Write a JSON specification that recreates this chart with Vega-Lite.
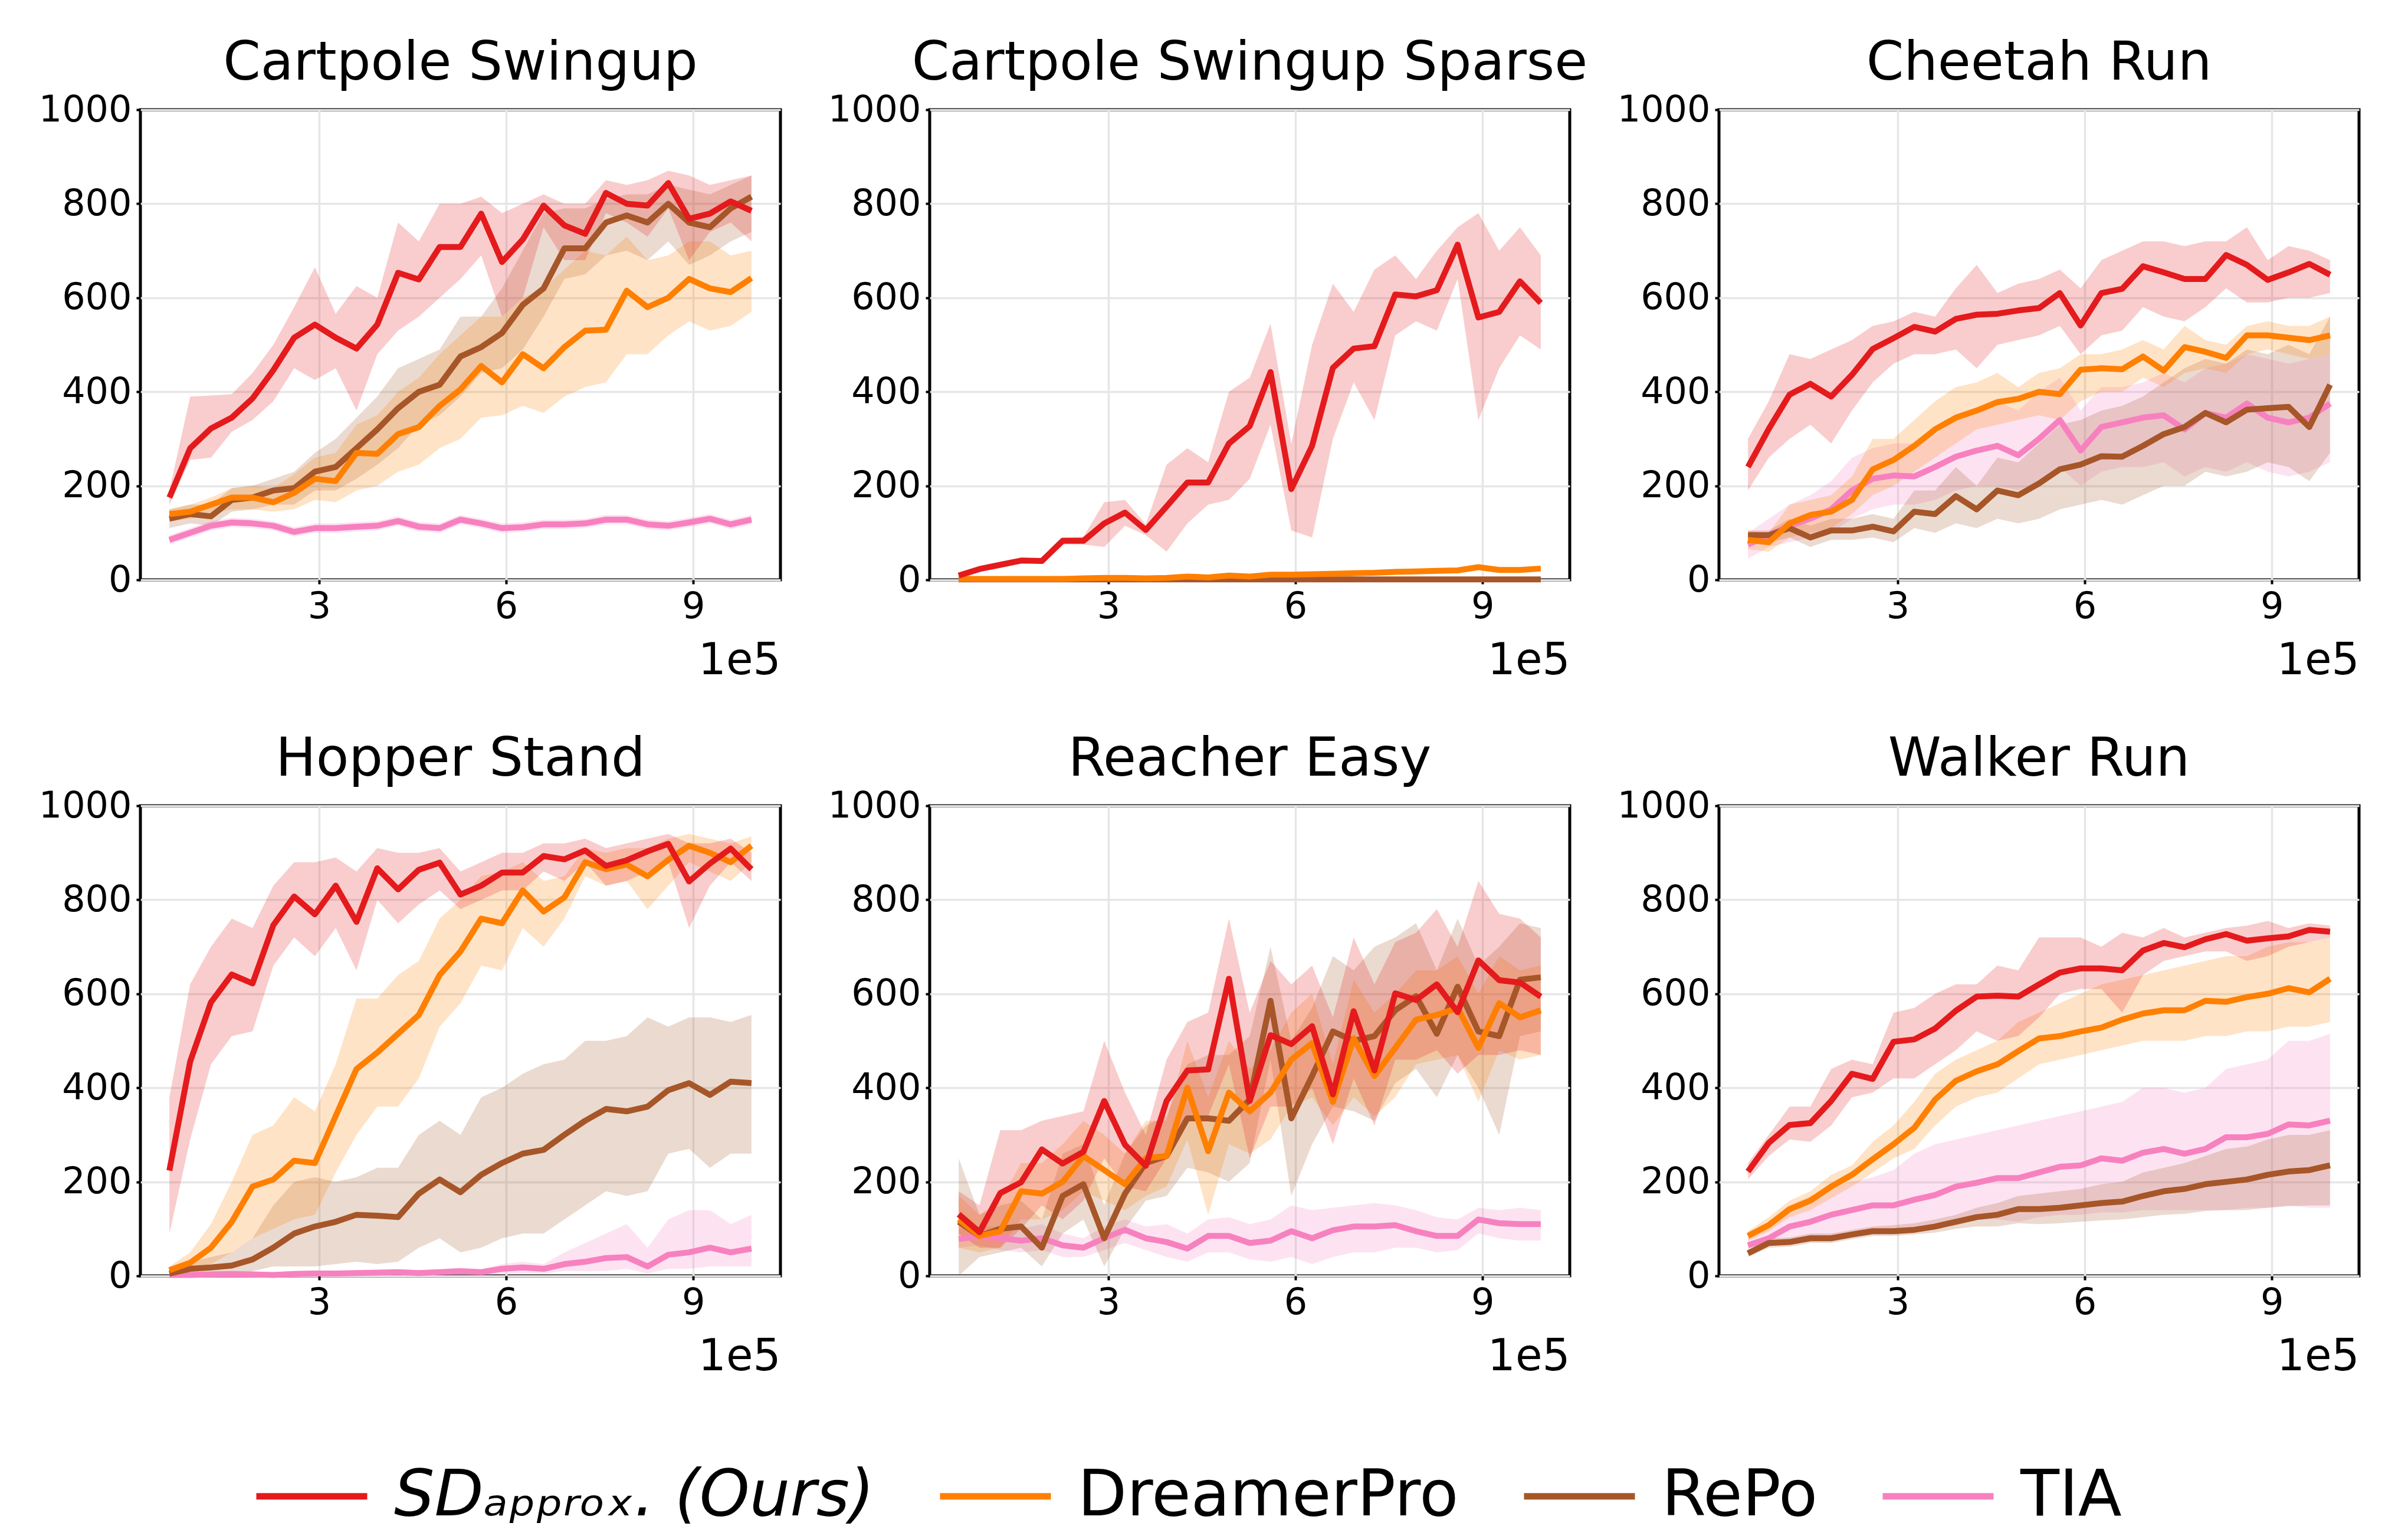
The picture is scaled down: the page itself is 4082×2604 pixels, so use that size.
{
"$schema":"https://vega.github.io/schema/vega-lite/v6.json",
"background":"white",
"padding":{"left":62,"top":59,"right":10,"bottom":5},
"config":{
 "font":"DejaVu Sans",
 "view":{"stroke":"black","strokeWidth":5},
 "axis":{"labelFontSize":62,"labelColor":"black","labelFont":"DejaVu Sans","tickColor":"black","tickSize":7,"tickWidth":4,"labelPadding":8,"gridColor":"#e6e6e6","gridWidth":3.5,"domain":false},
 "title":{"fontSize":91,"fontWeight":"normal","color":"black","font":"DejaVu Sans","offset":1,"baseline":"alphabetic","anchor":"middle"},
 "legend":{"labelFontSize":108,"labelFont":"DejaVu Sans","labelColor":"black","symbolType":"stroke","symbolSize":35344,"symbolStrokeWidth":11,"symbolOpacity":1,"labelOffset":40,"columnPadding":88,"padding":0,"labelLimit":3000}
},
"data":{"values":[
{"t":"CS","m":"TIA","x":60000,"y":85,"lo":75,"hi":95},
{"t":"CS","m":"TIA","x":93333,"y":100,"lo":90,"hi":110},
{"t":"CS","m":"TIA","x":126667,"y":115,"lo":105,"hi":125},
{"t":"CS","m":"TIA","x":160000,"y":122,"lo":112,"hi":132},
{"t":"CS","m":"TIA","x":193333,"y":120,"lo":110,"hi":130},
{"t":"CS","m":"TIA","x":226667,"y":115,"lo":105,"hi":125},
{"t":"CS","m":"TIA","x":260000,"y":102,"lo":92,"hi":112},
{"t":"CS","m":"TIA","x":293333,"y":110,"lo":100,"hi":120},
{"t":"CS","m":"TIA","x":326667,"y":110,"lo":100,"hi":120},
{"t":"CS","m":"TIA","x":360000,"y":113,"lo":103,"hi":123},
{"t":"CS","m":"TIA","x":393333,"y":115,"lo":105,"hi":125},
{"t":"CS","m":"TIA","x":426667,"y":125,"lo":115,"hi":135},
{"t":"CS","m":"TIA","x":460000,"y":113,"lo":103,"hi":123},
{"t":"CS","m":"TIA","x":493333,"y":110,"lo":100,"hi":120},
{"t":"CS","m":"TIA","x":526667,"y":128,"lo":118,"hi":138},
{"t":"CS","m":"TIA","x":560000,"y":120,"lo":110,"hi":130},
{"t":"CS","m":"TIA","x":593333,"y":110,"lo":100,"hi":120},
{"t":"CS","m":"TIA","x":626667,"y":112,"lo":102,"hi":122},
{"t":"CS","m":"TIA","x":660000,"y":118,"lo":108,"hi":128},
{"t":"CS","m":"TIA","x":693333,"y":118,"lo":108,"hi":128},
{"t":"CS","m":"TIA","x":726667,"y":120,"lo":110,"hi":130},
{"t":"CS","m":"TIA","x":760000,"y":128,"lo":118,"hi":138},
{"t":"CS","m":"TIA","x":793333,"y":128,"lo":118,"hi":138},
{"t":"CS","m":"TIA","x":826667,"y":118,"lo":108,"hi":128},
{"t":"CS","m":"TIA","x":860000,"y":115,"lo":105,"hi":125},
{"t":"CS","m":"TIA","x":893333,"y":122,"lo":112,"hi":132},
{"t":"CS","m":"TIA","x":926667,"y":130,"lo":120,"hi":140},
{"t":"CS","m":"TIA","x":960000,"y":118,"lo":108,"hi":128},
{"t":"CS","m":"TIA","x":993333,"y":128,"lo":118,"hi":138},
{"t":"CS","m":"RePo","x":60000,"y":130,"lo":110,"hi":150},
{"t":"CS","m":"RePo","x":93333,"y":140,"lo":120,"hi":160},
{"t":"CS","m":"RePo","x":126667,"y":135,"lo":115,"hi":160},
{"t":"CS","m":"RePo","x":160000,"y":170,"lo":145,"hi":195},
{"t":"CS","m":"RePo","x":193333,"y":175,"lo":150,"hi":200},
{"t":"CS","m":"RePo","x":226667,"y":190,"lo":160,"hi":215},
{"t":"CS","m":"RePo","x":260000,"y":195,"lo":160,"hi":230},
{"t":"CS","m":"RePo","x":293333,"y":230,"lo":190,"hi":270},
{"t":"CS","m":"RePo","x":326667,"y":240,"lo":190,"hi":300},
{"t":"CS","m":"RePo","x":360000,"y":280,"lo":215,"hi":345},
{"t":"CS","m":"RePo","x":393333,"y":320,"lo":245,"hi":390},
{"t":"CS","m":"RePo","x":426667,"y":365,"lo":280,"hi":450},
{"t":"CS","m":"RePo","x":460000,"y":400,"lo":330,"hi":470},
{"t":"CS","m":"RePo","x":493333,"y":415,"lo":350,"hi":490},
{"t":"CS","m":"RePo","x":526667,"y":475,"lo":390,"hi":560},
{"t":"CS","m":"RePo","x":560000,"y":495,"lo":440,"hi":560},
{"t":"CS","m":"RePo","x":593333,"y":525,"lo":450,"hi":620},
{"t":"CS","m":"RePo","x":626667,"y":585,"lo":490,"hi":700},
{"t":"CS","m":"RePo","x":660000,"y":620,"lo":560,"hi":780},
{"t":"CS","m":"RePo","x":693333,"y":705,"lo":640,"hi":790},
{"t":"CS","m":"RePo","x":726667,"y":705,"lo":650,"hi":790},
{"t":"CS","m":"RePo","x":760000,"y":760,"lo":690,"hi":810},
{"t":"CS","m":"RePo","x":793333,"y":775,"lo":700,"hi":820},
{"t":"CS","m":"RePo","x":826667,"y":760,"lo":680,"hi":820},
{"t":"CS","m":"RePo","x":860000,"y":800,"lo":720,"hi":840},
{"t":"CS","m":"RePo","x":893333,"y":760,"lo":670,"hi":830},
{"t":"CS","m":"RePo","x":926667,"y":750,"lo":690,"hi":820},
{"t":"CS","m":"RePo","x":960000,"y":790,"lo":720,"hi":840},
{"t":"CS","m":"RePo","x":993333,"y":815,"lo":740,"hi":860},
{"t":"CS","m":"DreamerPro","x":60000,"y":140,"lo":125,"hi":150},
{"t":"CS","m":"DreamerPro","x":93333,"y":145,"lo":130,"hi":160},
{"t":"CS","m":"DreamerPro","x":126667,"y":160,"lo":140,"hi":175},
{"t":"CS","m":"DreamerPro","x":160000,"y":175,"lo":150,"hi":195},
{"t":"CS","m":"DreamerPro","x":193333,"y":175,"lo":150,"hi":200},
{"t":"CS","m":"DreamerPro","x":226667,"y":165,"lo":145,"hi":195},
{"t":"CS","m":"DreamerPro","x":260000,"y":185,"lo":150,"hi":225},
{"t":"CS","m":"DreamerPro","x":293333,"y":215,"lo":170,"hi":260},
{"t":"CS","m":"DreamerPro","x":326667,"y":210,"lo":165,"hi":270},
{"t":"CS","m":"DreamerPro","x":360000,"y":270,"lo":190,"hi":330},
{"t":"CS","m":"DreamerPro","x":393333,"y":268,"lo":200,"hi":350},
{"t":"CS","m":"DreamerPro","x":426667,"y":310,"lo":230,"hi":400},
{"t":"CS","m":"DreamerPro","x":460000,"y":325,"lo":245,"hi":430},
{"t":"CS","m":"DreamerPro","x":493333,"y":370,"lo":280,"hi":480},
{"t":"CS","m":"DreamerPro","x":526667,"y":405,"lo":300,"hi":520},
{"t":"CS","m":"DreamerPro","x":560000,"y":455,"lo":345,"hi":560},
{"t":"CS","m":"DreamerPro","x":593333,"y":420,"lo":350,"hi":560},
{"t":"CS","m":"DreamerPro","x":626667,"y":480,"lo":370,"hi":600},
{"t":"CS","m":"DreamerPro","x":660000,"y":450,"lo":355,"hi":620},
{"t":"CS","m":"DreamerPro","x":693333,"y":495,"lo":390,"hi":660},
{"t":"CS","m":"DreamerPro","x":726667,"y":530,"lo":410,"hi":700},
{"t":"CS","m":"DreamerPro","x":760000,"y":532,"lo":420,"hi":690},
{"t":"CS","m":"DreamerPro","x":793333,"y":615,"lo":480,"hi":730},
{"t":"CS","m":"DreamerPro","x":826667,"y":580,"lo":480,"hi":680},
{"t":"CS","m":"DreamerPro","x":860000,"y":600,"lo":520,"hi":690},
{"t":"CS","m":"DreamerPro","x":893333,"y":640,"lo":550,"hi":720},
{"t":"CS","m":"DreamerPro","x":926667,"y":620,"lo":530,"hi":720},
{"t":"CS","m":"DreamerPro","x":960000,"y":612,"lo":540,"hi":690},
{"t":"CS","m":"DreamerPro","x":993333,"y":642,"lo":570,"hi":700},
{"t":"CS","m":"SD","x":60000,"y":175,"lo":160,"hi":190},
{"t":"CS","m":"SD","x":93333,"y":280,"lo":255,"hi":390},
{"t":"CS","m":"SD","x":126667,"y":322,"lo":260,"hi":392},
{"t":"CS","m":"SD","x":160000,"y":345,"lo":315,"hi":395},
{"t":"CS","m":"SD","x":193333,"y":386,"lo":340,"hi":440},
{"t":"CS","m":"SD","x":226667,"y":446,"lo":380,"hi":500},
{"t":"CS","m":"SD","x":260000,"y":515,"lo":450,"hi":580},
{"t":"CS","m":"SD","x":293333,"y":543,"lo":425,"hi":665},
{"t":"CS","m":"SD","x":326667,"y":515,"lo":450,"hi":566},
{"t":"CS","m":"SD","x":360000,"y":492,"lo":360,"hi":625},
{"t":"CS","m":"SD","x":393333,"y":543,"lo":480,"hi":600},
{"t":"CS","m":"SD","x":426667,"y":653,"lo":530,"hi":760},
{"t":"CS","m":"SD","x":460000,"y":639,"lo":560,"hi":720},
{"t":"CS","m":"SD","x":493333,"y":708,"lo":600,"hi":800},
{"t":"CS","m":"SD","x":526667,"y":708,"lo":640,"hi":800},
{"t":"CS","m":"SD","x":560000,"y":779,"lo":690,"hi":815},
{"t":"CS","m":"SD","x":593333,"y":676,"lo":560,"hi":780},
{"t":"CS","m":"SD","x":626667,"y":724,"lo":600,"hi":800},
{"t":"CS","m":"SD","x":660000,"y":796,"lo":750,"hi":820},
{"t":"CS","m":"SD","x":693333,"y":754,"lo":680,"hi":800},
{"t":"CS","m":"SD","x":726667,"y":736,"lo":680,"hi":800},
{"t":"CS","m":"SD","x":760000,"y":823,"lo":780,"hi":850},
{"t":"CS","m":"SD","x":793333,"y":800,"lo":760,"hi":840},
{"t":"CS","m":"SD","x":826667,"y":796,"lo":730,"hi":850},
{"t":"CS","m":"SD","x":860000,"y":844,"lo":790,"hi":870},
{"t":"CS","m":"SD","x":893333,"y":768,"lo":680,"hi":860},
{"t":"CS","m":"SD","x":926667,"y":779,"lo":740,"hi":840},
{"t":"CS","m":"SD","x":960000,"y":805,"lo":760,"hi":850},
{"t":"CS","m":"SD","x":993333,"y":785,"lo":720,"hi":860},
{"t":"CSS","m":"RePo","x":60000,"y":1,"lo":0,"hi":2},
{"t":"CSS","m":"RePo","x":93333,"y":1,"lo":0,"hi":2},
{"t":"CSS","m":"RePo","x":126667,"y":1,"lo":0,"hi":2},
{"t":"CSS","m":"RePo","x":160000,"y":1,"lo":0,"hi":2},
{"t":"CSS","m":"RePo","x":193333,"y":1,"lo":0,"hi":2},
{"t":"CSS","m":"RePo","x":226667,"y":1,"lo":0,"hi":2},
{"t":"CSS","m":"RePo","x":260000,"y":1,"lo":0,"hi":2},
{"t":"CSS","m":"RePo","x":293333,"y":1,"lo":0,"hi":2},
{"t":"CSS","m":"RePo","x":326667,"y":1,"lo":0,"hi":2},
{"t":"CSS","m":"RePo","x":360000,"y":1,"lo":0,"hi":2},
{"t":"CSS","m":"RePo","x":393333,"y":1,"lo":0,"hi":2},
{"t":"CSS","m":"RePo","x":426667,"y":1,"lo":0,"hi":2},
{"t":"CSS","m":"RePo","x":460000,"y":1,"lo":0,"hi":2},
{"t":"CSS","m":"RePo","x":493333,"y":1,"lo":0,"hi":2},
{"t":"CSS","m":"RePo","x":526667,"y":1,"lo":0,"hi":2},
{"t":"CSS","m":"RePo","x":560000,"y":1,"lo":0,"hi":2},
{"t":"CSS","m":"RePo","x":593333,"y":1,"lo":0,"hi":2},
{"t":"CSS","m":"RePo","x":626667,"y":1,"lo":0,"hi":2},
{"t":"CSS","m":"RePo","x":660000,"y":1,"lo":0,"hi":2},
{"t":"CSS","m":"RePo","x":693333,"y":1,"lo":0,"hi":2},
{"t":"CSS","m":"RePo","x":726667,"y":1,"lo":0,"hi":2},
{"t":"CSS","m":"RePo","x":760000,"y":1,"lo":0,"hi":2},
{"t":"CSS","m":"RePo","x":793333,"y":1,"lo":0,"hi":2},
{"t":"CSS","m":"RePo","x":826667,"y":1,"lo":0,"hi":2},
{"t":"CSS","m":"RePo","x":860000,"y":1,"lo":0,"hi":2},
{"t":"CSS","m":"RePo","x":893333,"y":1,"lo":0,"hi":2},
{"t":"CSS","m":"RePo","x":926667,"y":1,"lo":0,"hi":2},
{"t":"CSS","m":"RePo","x":960000,"y":1,"lo":0,"hi":2},
{"t":"CSS","m":"RePo","x":993333,"y":1,"lo":0,"hi":2},
{"t":"CSS","m":"DreamerPro","x":60000,"y":2,"lo":0,"hi":4},
{"t":"CSS","m":"DreamerPro","x":93333,"y":2,"lo":0,"hi":4},
{"t":"CSS","m":"DreamerPro","x":126667,"y":2,"lo":0,"hi":4},
{"t":"CSS","m":"DreamerPro","x":160000,"y":2,"lo":0,"hi":4},
{"t":"CSS","m":"DreamerPro","x":193333,"y":2,"lo":0,"hi":4},
{"t":"CSS","m":"DreamerPro","x":226667,"y":2,"lo":0,"hi":4},
{"t":"CSS","m":"DreamerPro","x":260000,"y":3,"lo":1,"hi":5},
{"t":"CSS","m":"DreamerPro","x":293333,"y":4,"lo":1,"hi":7},
{"t":"CSS","m":"DreamerPro","x":326667,"y":4,"lo":1,"hi":7},
{"t":"CSS","m":"DreamerPro","x":360000,"y":3,"lo":1,"hi":6},
{"t":"CSS","m":"DreamerPro","x":393333,"y":4,"lo":1,"hi":7},
{"t":"CSS","m":"DreamerPro","x":426667,"y":7,"lo":3,"hi":11},
{"t":"CSS","m":"DreamerPro","x":460000,"y":5,"lo":2,"hi":9},
{"t":"CSS","m":"DreamerPro","x":493333,"y":9,"lo":5,"hi":13},
{"t":"CSS","m":"DreamerPro","x":526667,"y":7,"lo":4,"hi":11},
{"t":"CSS","m":"DreamerPro","x":560000,"y":11,"lo":7,"hi":15},
{"t":"CSS","m":"DreamerPro","x":593333,"y":11,"lo":7,"hi":15},
{"t":"CSS","m":"DreamerPro","x":626667,"y":12,"lo":8,"hi":16},
{"t":"CSS","m":"DreamerPro","x":660000,"y":13,"lo":9,"hi":17},
{"t":"CSS","m":"DreamerPro","x":693333,"y":14,"lo":10,"hi":18},
{"t":"CSS","m":"DreamerPro","x":726667,"y":15,"lo":11,"hi":19},
{"t":"CSS","m":"DreamerPro","x":760000,"y":17,"lo":13,"hi":21},
{"t":"CSS","m":"DreamerPro","x":793333,"y":18,"lo":14,"hi":22},
{"t":"CSS","m":"DreamerPro","x":826667,"y":19,"lo":15,"hi":23},
{"t":"CSS","m":"DreamerPro","x":860000,"y":20,"lo":16,"hi":24},
{"t":"CSS","m":"DreamerPro","x":893333,"y":27,"lo":22,"hi":32},
{"t":"CSS","m":"DreamerPro","x":926667,"y":21,"lo":17,"hi":25},
{"t":"CSS","m":"DreamerPro","x":960000,"y":21,"lo":17,"hi":25},
{"t":"CSS","m":"DreamerPro","x":993333,"y":24,"lo":20,"hi":28},
{"t":"CSS","m":"SD","x":60000,"y":9,"lo":5,"hi":15},
{"t":"CSS","m":"SD","x":93333,"y":23,"lo":18,"hi":28},
{"t":"CSS","m":"SD","x":126667,"y":32,"lo":27,"hi":38},
{"t":"CSS","m":"SD","x":160000,"y":41,"lo":36,"hi":47},
{"t":"CSS","m":"SD","x":193333,"y":40,"lo":35,"hi":45},
{"t":"CSS","m":"SD","x":226667,"y":83,"lo":75,"hi":90},
{"t":"CSS","m":"SD","x":260000,"y":83,"lo":75,"hi":92},
{"t":"CSS","m":"SD","x":293333,"y":120,"lo":70,"hi":165},
{"t":"CSS","m":"SD","x":326667,"y":143,"lo":115,"hi":170},
{"t":"CSS","m":"SD","x":360000,"y":106,"lo":95,"hi":118},
{"t":"CSS","m":"SD","x":393333,"y":156,"lo":60,"hi":245},
{"t":"CSS","m":"SD","x":426667,"y":207,"lo":120,"hi":280},
{"t":"CSS","m":"SD","x":460000,"y":207,"lo":160,"hi":250},
{"t":"CSS","m":"SD","x":493333,"y":290,"lo":170,"hi":400},
{"t":"CSS","m":"SD","x":526667,"y":327,"lo":215,"hi":430},
{"t":"CSS","m":"SD","x":560000,"y":442,"lo":330,"hi":545},
{"t":"CSS","m":"SD","x":593333,"y":193,"lo":105,"hi":290},
{"t":"CSS","m":"SD","x":626667,"y":285,"lo":90,"hi":500},
{"t":"CSS","m":"SD","x":660000,"y":451,"lo":300,"hi":630},
{"t":"CSS","m":"SD","x":693333,"y":492,"lo":420,"hi":570},
{"t":"CSS","m":"SD","x":726667,"y":497,"lo":340,"hi":660},
{"t":"CSS","m":"SD","x":760000,"y":607,"lo":520,"hi":690},
{"t":"CSS","m":"SD","x":793333,"y":603,"lo":550,"hi":640},
{"t":"CSS","m":"SD","x":826667,"y":616,"lo":530,"hi":700},
{"t":"CSS","m":"SD","x":860000,"y":713,"lo":640,"hi":750},
{"t":"CSS","m":"SD","x":893333,"y":558,"lo":340,"hi":780},
{"t":"CSS","m":"SD","x":926667,"y":570,"lo":450,"hi":700},
{"t":"CSS","m":"SD","x":960000,"y":635,"lo":520,"hi":750},
{"t":"CSS","m":"SD","x":993333,"y":589,"lo":490,"hi":690},
{"t":"CR","m":"TIA","x":60000,"y":75,"lo":45,"hi":100},
{"t":"CR","m":"TIA","x":93333,"y":95,"lo":70,"hi":130},
{"t":"CR","m":"TIA","x":126667,"y":115,"lo":80,"hi":160},
{"t":"CR","m":"TIA","x":160000,"y":130,"lo":90,"hi":180},
{"t":"CR","m":"TIA","x":193333,"y":150,"lo":100,"hi":210},
{"t":"CR","m":"TIA","x":226667,"y":190,"lo":130,"hi":260},
{"t":"CR","m":"TIA","x":260000,"y":215,"lo":150,"hi":280},
{"t":"CR","m":"TIA","x":293333,"y":222,"lo":160,"hi":290},
{"t":"CR","m":"TIA","x":326667,"y":220,"lo":160,"hi":290},
{"t":"CR","m":"TIA","x":360000,"y":240,"lo":170,"hi":310},
{"t":"CR","m":"TIA","x":393333,"y":262,"lo":190,"hi":340},
{"t":"CR","m":"TIA","x":426667,"y":275,"lo":200,"hi":360},
{"t":"CR","m":"TIA","x":460000,"y":285,"lo":200,"hi":380},
{"t":"CR","m":"TIA","x":493333,"y":265,"lo":190,"hi":360},
{"t":"CR","m":"TIA","x":526667,"y":300,"lo":210,"hi":400},
{"t":"CR","m":"TIA","x":560000,"y":340,"lo":240,"hi":430},
{"t":"CR","m":"TIA","x":593333,"y":275,"lo":200,"hi":360},
{"t":"CR","m":"TIA","x":626667,"y":325,"lo":230,"hi":410},
{"t":"CR","m":"TIA","x":660000,"y":335,"lo":240,"hi":410},
{"t":"CR","m":"TIA","x":693333,"y":345,"lo":240,"hi":420},
{"t":"CR","m":"TIA","x":726667,"y":350,"lo":250,"hi":440},
{"t":"CR","m":"TIA","x":760000,"y":320,"lo":220,"hi":420},
{"t":"CR","m":"TIA","x":793333,"y":355,"lo":240,"hi":450},
{"t":"CR","m":"TIA","x":826667,"y":345,"lo":230,"hi":460},
{"t":"CR","m":"TIA","x":860000,"y":375,"lo":250,"hi":480},
{"t":"CR","m":"TIA","x":893333,"y":345,"lo":230,"hi":470},
{"t":"CR","m":"TIA","x":926667,"y":335,"lo":220,"hi":460},
{"t":"CR","m":"TIA","x":960000,"y":345,"lo":230,"hi":470},
{"t":"CR","m":"TIA","x":993333,"y":375,"lo":250,"hi":480},
{"t":"CR","m":"RePo","x":60000,"y":95,"lo":85,"hi":105},
{"t":"CR","m":"RePo","x":93333,"y":95,"lo":80,"hi":105},
{"t":"CR","m":"RePo","x":126667,"y":110,"lo":90,"hi":130},
{"t":"CR","m":"RePo","x":160000,"y":90,"lo":70,"hi":115},
{"t":"CR","m":"RePo","x":193333,"y":105,"lo":85,"hi":130},
{"t":"CR","m":"RePo","x":226667,"y":105,"lo":85,"hi":130},
{"t":"CR","m":"RePo","x":260000,"y":113,"lo":90,"hi":140},
{"t":"CR","m":"RePo","x":293333,"y":103,"lo":80,"hi":130},
{"t":"CR","m":"RePo","x":326667,"y":145,"lo":110,"hi":190},
{"t":"CR","m":"RePo","x":360000,"y":140,"lo":100,"hi":190},
{"t":"CR","m":"RePo","x":393333,"y":178,"lo":120,"hi":240},
{"t":"CR","m":"RePo","x":426667,"y":150,"lo":110,"hi":200},
{"t":"CR","m":"RePo","x":460000,"y":190,"lo":130,"hi":260},
{"t":"CR","m":"RePo","x":493333,"y":180,"lo":120,"hi":250},
{"t":"CR","m":"RePo","x":526667,"y":205,"lo":130,"hi":290},
{"t":"CR","m":"RePo","x":560000,"y":235,"lo":150,"hi":330},
{"t":"CR","m":"RePo","x":593333,"y":245,"lo":160,"hi":340},
{"t":"CR","m":"RePo","x":626667,"y":263,"lo":170,"hi":360},
{"t":"CR","m":"RePo","x":660000,"y":262,"lo":160,"hi":370},
{"t":"CR","m":"RePo","x":693333,"y":285,"lo":180,"hi":390},
{"t":"CR","m":"RePo","x":726667,"y":310,"lo":200,"hi":420},
{"t":"CR","m":"RePo","x":760000,"y":325,"lo":200,"hi":450},
{"t":"CR","m":"RePo","x":793333,"y":355,"lo":230,"hi":470},
{"t":"CR","m":"RePo","x":826667,"y":335,"lo":220,"hi":460},
{"t":"CR","m":"RePo","x":860000,"y":362,"lo":230,"hi":490},
{"t":"CR","m":"RePo","x":893333,"y":365,"lo":250,"hi":480},
{"t":"CR","m":"RePo","x":926667,"y":368,"lo":240,"hi":500},
{"t":"CR","m":"RePo","x":960000,"y":325,"lo":210,"hi":480},
{"t":"CR","m":"RePo","x":993333,"y":415,"lo":270,"hi":560},
{"t":"CR","m":"DreamerPro","x":60000,"y":85,"lo":65,"hi":105},
{"t":"CR","m":"DreamerPro","x":93333,"y":80,"lo":60,"hi":100},
{"t":"CR","m":"DreamerPro","x":126667,"y":120,"lo":90,"hi":160},
{"t":"CR","m":"DreamerPro","x":160000,"y":138,"lo":100,"hi":170},
{"t":"CR","m":"DreamerPro","x":193333,"y":145,"lo":110,"hi":180},
{"t":"CR","m":"DreamerPro","x":226667,"y":170,"lo":140,"hi":220},
{"t":"CR","m":"DreamerPro","x":260000,"y":235,"lo":180,"hi":300},
{"t":"CR","m":"DreamerPro","x":293333,"y":255,"lo":200,"hi":300},
{"t":"CR","m":"DreamerPro","x":326667,"y":285,"lo":230,"hi":340},
{"t":"CR","m":"DreamerPro","x":360000,"y":320,"lo":260,"hi":380},
{"t":"CR","m":"DreamerPro","x":393333,"y":345,"lo":290,"hi":410},
{"t":"CR","m":"DreamerPro","x":426667,"y":360,"lo":320,"hi":420},
{"t":"CR","m":"DreamerPro","x":460000,"y":378,"lo":330,"hi":440},
{"t":"CR","m":"DreamerPro","x":493333,"y":385,"lo":340,"hi":410},
{"t":"CR","m":"DreamerPro","x":526667,"y":400,"lo":350,"hi":440},
{"t":"CR","m":"DreamerPro","x":560000,"y":395,"lo":340,"hi":450},
{"t":"CR","m":"DreamerPro","x":593333,"y":447,"lo":380,"hi":480},
{"t":"CR","m":"DreamerPro","x":626667,"y":450,"lo":400,"hi":480},
{"t":"CR","m":"DreamerPro","x":660000,"y":448,"lo":400,"hi":490},
{"t":"CR","m":"DreamerPro","x":693333,"y":475,"lo":430,"hi":510},
{"t":"CR","m":"DreamerPro","x":726667,"y":445,"lo":410,"hi":490},
{"t":"CR","m":"DreamerPro","x":760000,"y":495,"lo":440,"hi":540},
{"t":"CR","m":"DreamerPro","x":793333,"y":485,"lo":450,"hi":510},
{"t":"CR","m":"DreamerPro","x":826667,"y":472,"lo":440,"hi":500},
{"t":"CR","m":"DreamerPro","x":860000,"y":520,"lo":480,"hi":540},
{"t":"CR","m":"DreamerPro","x":893333,"y":520,"lo":490,"hi":550},
{"t":"CR","m":"DreamerPro","x":926667,"y":515,"lo":480,"hi":540},
{"t":"CR","m":"DreamerPro","x":960000,"y":510,"lo":470,"hi":540},
{"t":"CR","m":"DreamerPro","x":993333,"y":520,"lo":480,"hi":560},
{"t":"CR","m":"SD","x":60000,"y":240,"lo":190,"hi":300},
{"t":"CR","m":"SD","x":93333,"y":321,"lo":260,"hi":380},
{"t":"CR","m":"SD","x":126667,"y":394,"lo":300,"hi":480},
{"t":"CR","m":"SD","x":160000,"y":417,"lo":330,"hi":470},
{"t":"CR","m":"SD","x":193333,"y":390,"lo":290,"hi":490},
{"t":"CR","m":"SD","x":226667,"y":436,"lo":360,"hi":510},
{"t":"CR","m":"SD","x":260000,"y":491,"lo":420,"hi":540},
{"t":"CR","m":"SD","x":293333,"y":514,"lo":460,"hi":550},
{"t":"CR","m":"SD","x":326667,"y":538,"lo":480,"hi":570},
{"t":"CR","m":"SD","x":360000,"y":528,"lo":480,"hi":560},
{"t":"CR","m":"SD","x":393333,"y":555,"lo":490,"hi":620},
{"t":"CR","m":"SD","x":426667,"y":564,"lo":450,"hi":670},
{"t":"CR","m":"SD","x":460000,"y":566,"lo":500,"hi":610},
{"t":"CR","m":"SD","x":493333,"y":573,"lo":510,"hi":630},
{"t":"CR","m":"SD","x":526667,"y":578,"lo":520,"hi":640},
{"t":"CR","m":"SD","x":560000,"y":610,"lo":540,"hi":660},
{"t":"CR","m":"SD","x":593333,"y":541,"lo":480,"hi":620},
{"t":"CR","m":"SD","x":626667,"y":610,"lo":520,"hi":680},
{"t":"CR","m":"SD","x":660000,"y":619,"lo":530,"hi":700},
{"t":"CR","m":"SD","x":693333,"y":667,"lo":580,"hi":720},
{"t":"CR","m":"SD","x":726667,"y":654,"lo":560,"hi":720},
{"t":"CR","m":"SD","x":760000,"y":640,"lo":550,"hi":710},
{"t":"CR","m":"SD","x":793333,"y":640,"lo":580,"hi":720},
{"t":"CR","m":"SD","x":826667,"y":691,"lo":620,"hi":720},
{"t":"CR","m":"SD","x":860000,"y":670,"lo":590,"hi":750},
{"t":"CR","m":"SD","x":893333,"y":638,"lo":590,"hi":680},
{"t":"CR","m":"SD","x":926667,"y":654,"lo":600,"hi":710},
{"t":"CR","m":"SD","x":960000,"y":672,"lo":600,"hi":700},
{"t":"CR","m":"SD","x":993333,"y":649,"lo":610,"hi":680},
{"t":"HS","m":"TIA","x":60000,"y":2,"lo":0,"hi":8},
{"t":"HS","m":"TIA","x":93333,"y":2,"lo":0,"hi":8},
{"t":"HS","m":"TIA","x":126667,"y":3,"lo":0,"hi":9},
{"t":"HS","m":"TIA","x":160000,"y":4,"lo":0,"hi":10},
{"t":"HS","m":"TIA","x":193333,"y":3,"lo":0,"hi":9},
{"t":"HS","m":"TIA","x":226667,"y":2,"lo":0,"hi":8},
{"t":"HS","m":"TIA","x":260000,"y":4,"lo":0,"hi":10},
{"t":"HS","m":"TIA","x":293333,"y":5,"lo":0,"hi":11},
{"t":"HS","m":"TIA","x":326667,"y":5,"lo":0,"hi":11},
{"t":"HS","m":"TIA","x":360000,"y":6,"lo":0,"hi":12},
{"t":"HS","m":"TIA","x":393333,"y":7,"lo":0,"hi":13},
{"t":"HS","m":"TIA","x":426667,"y":8,"lo":0,"hi":14},
{"t":"HS","m":"TIA","x":460000,"y":6,"lo":0,"hi":12},
{"t":"HS","m":"TIA","x":493333,"y":8,"lo":0,"hi":14},
{"t":"HS","m":"TIA","x":526667,"y":10,"lo":0,"hi":16},
{"t":"HS","m":"TIA","x":560000,"y":8,"lo":0,"hi":14},
{"t":"HS","m":"TIA","x":593333,"y":15,"lo":5,"hi":25},
{"t":"HS","m":"TIA","x":626667,"y":18,"lo":5,"hi":30},
{"t":"HS","m":"TIA","x":660000,"y":15,"lo":5,"hi":25},
{"t":"HS","m":"TIA","x":693333,"y":25,"lo":10,"hi":50},
{"t":"HS","m":"TIA","x":726667,"y":30,"lo":10,"hi":70},
{"t":"HS","m":"TIA","x":760000,"y":38,"lo":10,"hi":90},
{"t":"HS","m":"TIA","x":793333,"y":40,"lo":15,"hi":110},
{"t":"HS","m":"TIA","x":826667,"y":20,"lo":5,"hi":60},
{"t":"HS","m":"TIA","x":860000,"y":45,"lo":15,"hi":120},
{"t":"HS","m":"TIA","x":893333,"y":50,"lo":15,"hi":140},
{"t":"HS","m":"TIA","x":926667,"y":60,"lo":20,"hi":140},
{"t":"HS","m":"TIA","x":960000,"y":50,"lo":20,"hi":110},
{"t":"HS","m":"TIA","x":993333,"y":58,"lo":20,"hi":130},
{"t":"HS","m":"RePo","x":60000,"y":5,"lo":0,"hi":10},
{"t":"HS","m":"RePo","x":93333,"y":15,"lo":3,"hi":30},
{"t":"HS","m":"RePo","x":126667,"y":18,"lo":5,"hi":40},
{"t":"HS","m":"RePo","x":160000,"y":22,"lo":5,"hi":50},
{"t":"HS","m":"RePo","x":193333,"y":35,"lo":10,"hi":80},
{"t":"HS","m":"RePo","x":226667,"y":60,"lo":20,"hi":150},
{"t":"HS","m":"RePo","x":260000,"y":90,"lo":20,"hi":200},
{"t":"HS","m":"RePo","x":293333,"y":105,"lo":20,"hi":210},
{"t":"HS","m":"RePo","x":326667,"y":115,"lo":25,"hi":200},
{"t":"HS","m":"RePo","x":360000,"y":130,"lo":30,"hi":210},
{"t":"HS","m":"RePo","x":393333,"y":128,"lo":25,"hi":230},
{"t":"HS","m":"RePo","x":426667,"y":125,"lo":30,"hi":230},
{"t":"HS","m":"RePo","x":460000,"y":175,"lo":60,"hi":300},
{"t":"HS","m":"RePo","x":493333,"y":205,"lo":80,"hi":330},
{"t":"HS","m":"RePo","x":526667,"y":178,"lo":50,"hi":300},
{"t":"HS","m":"RePo","x":560000,"y":215,"lo":60,"hi":380},
{"t":"HS","m":"RePo","x":593333,"y":240,"lo":80,"hi":400},
{"t":"HS","m":"RePo","x":626667,"y":260,"lo":90,"hi":430},
{"t":"HS","m":"RePo","x":660000,"y":268,"lo":90,"hi":450},
{"t":"HS","m":"RePo","x":693333,"y":300,"lo":120,"hi":460},
{"t":"HS","m":"RePo","x":726667,"y":330,"lo":150,"hi":500},
{"t":"HS","m":"RePo","x":760000,"y":355,"lo":180,"hi":500},
{"t":"HS","m":"RePo","x":793333,"y":350,"lo":170,"hi":510},
{"t":"HS","m":"RePo","x":826667,"y":360,"lo":180,"hi":550},
{"t":"HS","m":"RePo","x":860000,"y":395,"lo":260,"hi":530},
{"t":"HS","m":"RePo","x":893333,"y":410,"lo":270,"hi":550},
{"t":"HS","m":"RePo","x":926667,"y":385,"lo":230,"hi":550},
{"t":"HS","m":"RePo","x":960000,"y":413,"lo":260,"hi":540},
{"t":"HS","m":"RePo","x":993333,"y":410,"lo":260,"hi":555},
{"t":"HS","m":"DreamerPro","x":60000,"y":12,"lo":5,"hi":20},
{"t":"HS","m":"DreamerPro","x":93333,"y":28,"lo":10,"hi":50},
{"t":"HS","m":"DreamerPro","x":126667,"y":60,"lo":25,"hi":110},
{"t":"HS","m":"DreamerPro","x":160000,"y":115,"lo":50,"hi":200},
{"t":"HS","m":"DreamerPro","x":193333,"y":190,"lo":80,"hi":300},
{"t":"HS","m":"DreamerPro","x":226667,"y":205,"lo":100,"hi":320},
{"t":"HS","m":"DreamerPro","x":260000,"y":245,"lo":120,"hi":380},
{"t":"HS","m":"DreamerPro","x":293333,"y":240,"lo":130,"hi":350},
{"t":"HS","m":"DreamerPro","x":326667,"y":340,"lo":220,"hi":450},
{"t":"HS","m":"DreamerPro","x":360000,"y":440,"lo":300,"hi":590},
{"t":"HS","m":"DreamerPro","x":393333,"y":475,"lo":360,"hi":590},
{"t":"HS","m":"DreamerPro","x":426667,"y":515,"lo":360,"hi":640},
{"t":"HS","m":"DreamerPro","x":460000,"y":555,"lo":420,"hi":670},
{"t":"HS","m":"DreamerPro","x":493333,"y":640,"lo":530,"hi":760},
{"t":"HS","m":"DreamerPro","x":526667,"y":690,"lo":580,"hi":800},
{"t":"HS","m":"DreamerPro","x":560000,"y":760,"lo":660,"hi":850},
{"t":"HS","m":"DreamerPro","x":593333,"y":750,"lo":650,"hi":860},
{"t":"HS","m":"DreamerPro","x":626667,"y":820,"lo":740,"hi":880},
{"t":"HS","m":"DreamerPro","x":660000,"y":775,"lo":700,"hi":840},
{"t":"HS","m":"DreamerPro","x":693333,"y":805,"lo":760,"hi":850},
{"t":"HS","m":"DreamerPro","x":726667,"y":880,"lo":850,"hi":910},
{"t":"HS","m":"DreamerPro","x":760000,"y":865,"lo":830,"hi":900},
{"t":"HS","m":"DreamerPro","x":793333,"y":875,"lo":840,"hi":910},
{"t":"HS","m":"DreamerPro","x":826667,"y":850,"lo":780,"hi":910},
{"t":"HS","m":"DreamerPro","x":860000,"y":885,"lo":830,"hi":930},
{"t":"HS","m":"DreamerPro","x":893333,"y":915,"lo":880,"hi":940},
{"t":"HS","m":"DreamerPro","x":926667,"y":900,"lo":860,"hi":930},
{"t":"HS","m":"DreamerPro","x":960000,"y":880,"lo":840,"hi":920},
{"t":"HS","m":"DreamerPro","x":993333,"y":915,"lo":880,"hi":935},
{"t":"HS","m":"SD","x":60000,"y":224,"lo":90,"hi":380},
{"t":"HS","m":"SD","x":93333,"y":456,"lo":290,"hi":620},
{"t":"HS","m":"SD","x":126667,"y":582,"lo":450,"hi":700},
{"t":"HS","m":"SD","x":160000,"y":641,"lo":510,"hi":760},
{"t":"HS","m":"SD","x":193333,"y":622,"lo":520,"hi":740},
{"t":"HS","m":"SD","x":226667,"y":746,"lo":660,"hi":830},
{"t":"HS","m":"SD","x":260000,"y":807,"lo":720,"hi":880},
{"t":"HS","m":"SD","x":293333,"y":769,"lo":680,"hi":880},
{"t":"HS","m":"SD","x":326667,"y":830,"lo":740,"hi":890},
{"t":"HS","m":"SD","x":360000,"y":753,"lo":650,"hi":860},
{"t":"HS","m":"SD","x":393333,"y":867,"lo":800,"hi":910},
{"t":"HS","m":"SD","x":426667,"y":822,"lo":750,"hi":900},
{"t":"HS","m":"SD","x":460000,"y":864,"lo":790,"hi":900},
{"t":"HS","m":"SD","x":493333,"y":879,"lo":820,"hi":910},
{"t":"HS","m":"SD","x":526667,"y":811,"lo":780,"hi":860},
{"t":"HS","m":"SD","x":560000,"y":830,"lo":800,"hi":880},
{"t":"HS","m":"SD","x":593333,"y":858,"lo":820,"hi":900},
{"t":"HS","m":"SD","x":626667,"y":858,"lo":820,"hi":900},
{"t":"HS","m":"SD","x":660000,"y":893,"lo":860,"hi":920},
{"t":"HS","m":"SD","x":693333,"y":886,"lo":840,"hi":920},
{"t":"HS","m":"SD","x":726667,"y":905,"lo":880,"hi":930},
{"t":"HS","m":"SD","x":760000,"y":872,"lo":830,"hi":910},
{"t":"HS","m":"SD","x":793333,"y":884,"lo":840,"hi":920},
{"t":"HS","m":"SD","x":826667,"y":903,"lo":860,"hi":930},
{"t":"HS","m":"SD","x":860000,"y":919,"lo":880,"hi":940},
{"t":"HS","m":"SD","x":893333,"y":839,"lo":740,"hi":920},
{"t":"HS","m":"SD","x":926667,"y":877,"lo":830,"hi":920},
{"t":"HS","m":"SD","x":960000,"y":909,"lo":880,"hi":930},
{"t":"HS","m":"SD","x":993333,"y":865,"lo":840,"hi":900},
{"t":"RE","m":"TIA","x":60000,"y":78,"lo":60,"hi":100},
{"t":"RE","m":"TIA","x":93333,"y":85,"lo":65,"hi":105},
{"t":"RE","m":"TIA","x":126667,"y":80,"lo":55,"hi":105},
{"t":"RE","m":"TIA","x":160000,"y":75,"lo":50,"hi":100},
{"t":"RE","m":"TIA","x":193333,"y":80,"lo":55,"hi":110},
{"t":"RE","m":"TIA","x":226667,"y":65,"lo":40,"hi":90},
{"t":"RE","m":"TIA","x":260000,"y":60,"lo":40,"hi":80},
{"t":"RE","m":"TIA","x":293333,"y":80,"lo":55,"hi":105},
{"t":"RE","m":"TIA","x":326667,"y":98,"lo":70,"hi":120},
{"t":"RE","m":"TIA","x":360000,"y":80,"lo":55,"hi":105},
{"t":"RE","m":"TIA","x":393333,"y":72,"lo":40,"hi":110},
{"t":"RE","m":"TIA","x":426667,"y":58,"lo":30,"hi":90},
{"t":"RE","m":"TIA","x":460000,"y":85,"lo":50,"hi":120},
{"t":"RE","m":"TIA","x":493333,"y":85,"lo":50,"hi":125},
{"t":"RE","m":"TIA","x":526667,"y":70,"lo":35,"hi":110},
{"t":"RE","m":"TIA","x":560000,"y":75,"lo":30,"hi":120},
{"t":"RE","m":"TIA","x":593333,"y":95,"lo":40,"hi":150},
{"t":"RE","m":"TIA","x":626667,"y":80,"lo":25,"hi":140},
{"t":"RE","m":"TIA","x":660000,"y":97,"lo":40,"hi":145},
{"t":"RE","m":"TIA","x":693333,"y":105,"lo":50,"hi":150},
{"t":"RE","m":"TIA","x":726667,"y":105,"lo":50,"hi":155},
{"t":"RE","m":"TIA","x":760000,"y":108,"lo":60,"hi":150},
{"t":"RE","m":"TIA","x":793333,"y":95,"lo":60,"hi":140},
{"t":"RE","m":"TIA","x":826667,"y":85,"lo":50,"hi":125},
{"t":"RE","m":"TIA","x":860000,"y":85,"lo":55,"hi":120},
{"t":"RE","m":"TIA","x":893333,"y":120,"lo":90,"hi":145},
{"t":"RE","m":"TIA","x":926667,"y":112,"lo":80,"hi":140},
{"t":"RE","m":"TIA","x":960000,"y":110,"lo":75,"hi":145},
{"t":"RE","m":"TIA","x":993333,"y":110,"lo":75,"hi":140},
{"t":"RE","m":"RePo","x":60000,"y":115,"lo":0,"hi":250},
{"t":"RE","m":"RePo","x":93333,"y":85,"lo":40,"hi":130},
{"t":"RE","m":"RePo","x":126667,"y":100,"lo":50,"hi":150},
{"t":"RE","m":"RePo","x":160000,"y":105,"lo":60,"hi":160},
{"t":"RE","m":"RePo","x":193333,"y":60,"lo":20,"hi":120},
{"t":"RE","m":"RePo","x":226667,"y":170,"lo":90,"hi":260},
{"t":"RE","m":"RePo","x":260000,"y":195,"lo":120,"hi":280},
{"t":"RE","m":"RePo","x":293333,"y":80,"lo":20,"hi":150},
{"t":"RE","m":"RePo","x":326667,"y":175,"lo":100,"hi":260},
{"t":"RE","m":"RePo","x":360000,"y":240,"lo":160,"hi":320},
{"t":"RE","m":"RePo","x":393333,"y":255,"lo":170,"hi":340},
{"t":"RE","m":"RePo","x":426667,"y":335,"lo":230,"hi":450},
{"t":"RE","m":"RePo","x":460000,"y":335,"lo":220,"hi":470},
{"t":"RE","m":"RePo","x":493333,"y":330,"lo":200,"hi":470},
{"t":"RE","m":"RePo","x":526667,"y":375,"lo":240,"hi":510},
{"t":"RE","m":"RePo","x":560000,"y":585,"lo":460,"hi":700},
{"t":"RE","m":"RePo","x":593333,"y":335,"lo":170,"hi":500},
{"t":"RE","m":"RePo","x":626667,"y":425,"lo":280,"hi":570},
{"t":"RE","m":"RePo","x":660000,"y":520,"lo":360,"hi":680},
{"t":"RE","m":"RePo","x":693333,"y":500,"lo":350,"hi":650},
{"t":"RE","m":"RePo","x":726667,"y":510,"lo":330,"hi":700},
{"t":"RE","m":"RePo","x":760000,"y":565,"lo":410,"hi":720},
{"t":"RE","m":"RePo","x":793333,"y":595,"lo":440,"hi":750},
{"t":"RE","m":"RePo","x":826667,"y":515,"lo":380,"hi":650},
{"t":"RE","m":"RePo","x":860000,"y":615,"lo":470,"hi":760},
{"t":"RE","m":"RePo","x":893333,"y":520,"lo":400,"hi":660},
{"t":"RE","m":"RePo","x":926667,"y":510,"lo":300,"hi":700},
{"t":"RE","m":"RePo","x":960000,"y":630,"lo":510,"hi":750},
{"t":"RE","m":"RePo","x":993333,"y":635,"lo":520,"hi":740},
{"t":"RE","m":"DreamerPro","x":60000,"y":120,"lo":60,"hi":170},
{"t":"RE","m":"DreamerPro","x":93333,"y":85,"lo":50,"hi":130},
{"t":"RE","m":"DreamerPro","x":126667,"y":95,"lo":60,"hi":160},
{"t":"RE","m":"DreamerPro","x":160000,"y":180,"lo":120,"hi":240},
{"t":"RE","m":"DreamerPro","x":193333,"y":175,"lo":120,"hi":240},
{"t":"RE","m":"DreamerPro","x":226667,"y":200,"lo":140,"hi":280},
{"t":"RE","m":"DreamerPro","x":260000,"y":255,"lo":180,"hi":330},
{"t":"RE","m":"DreamerPro","x":293333,"y":225,"lo":160,"hi":300},
{"t":"RE","m":"DreamerPro","x":326667,"y":195,"lo":140,"hi":260},
{"t":"RE","m":"DreamerPro","x":360000,"y":250,"lo":170,"hi":330},
{"t":"RE","m":"DreamerPro","x":393333,"y":255,"lo":190,"hi":330},
{"t":"RE","m":"DreamerPro","x":426667,"y":400,"lo":290,"hi":500},
{"t":"RE","m":"DreamerPro","x":460000,"y":265,"lo":130,"hi":380},
{"t":"RE","m":"DreamerPro","x":493333,"y":390,"lo":280,"hi":500},
{"t":"RE","m":"DreamerPro","x":526667,"y":350,"lo":260,"hi":440},
{"t":"RE","m":"DreamerPro","x":560000,"y":390,"lo":290,"hi":480},
{"t":"RE","m":"DreamerPro","x":593333,"y":460,"lo":360,"hi":560},
{"t":"RE","m":"DreamerPro","x":626667,"y":495,"lo":380,"hi":600},
{"t":"RE","m":"DreamerPro","x":660000,"y":370,"lo":320,"hi":450},
{"t":"RE","m":"DreamerPro","x":693333,"y":505,"lo":380,"hi":630},
{"t":"RE","m":"DreamerPro","x":726667,"y":425,"lo":340,"hi":560},
{"t":"RE","m":"DreamerPro","x":760000,"y":485,"lo":380,"hi":600},
{"t":"RE","m":"DreamerPro","x":793333,"y":545,"lo":450,"hi":650},
{"t":"RE","m":"DreamerPro","x":826667,"y":555,"lo":460,"hi":650},
{"t":"RE","m":"DreamerPro","x":860000,"y":570,"lo":470,"hi":680},
{"t":"RE","m":"DreamerPro","x":893333,"y":485,"lo":370,"hi":600},
{"t":"RE","m":"DreamerPro","x":926667,"y":580,"lo":480,"hi":680},
{"t":"RE","m":"DreamerPro","x":960000,"y":550,"lo":460,"hi":650},
{"t":"RE","m":"DreamerPro","x":993333,"y":565,"lo":470,"hi":660},
{"t":"RE","m":"SD","x":60000,"y":131,"lo":90,"hi":180},
{"t":"RE","m":"SD","x":93333,"y":93,"lo":60,"hi":150},
{"t":"RE","m":"SD","x":126667,"y":176,"lo":60,"hi":310},
{"t":"RE","m":"SD","x":160000,"y":199,"lo":100,"hi":310},
{"t":"RE","m":"SD","x":193333,"y":269,"lo":150,"hi":330},
{"t":"RE","m":"SD","x":226667,"y":239,"lo":120,"hi":340},
{"t":"RE","m":"SD","x":260000,"y":264,"lo":160,"hi":350},
{"t":"RE","m":"SD","x":293333,"y":372,"lo":250,"hi":500},
{"t":"RE","m":"SD","x":326667,"y":279,"lo":190,"hi":390},
{"t":"RE","m":"SD","x":360000,"y":234,"lo":180,"hi":300},
{"t":"RE","m":"SD","x":393333,"y":372,"lo":250,"hi":460},
{"t":"RE","m":"SD","x":426667,"y":437,"lo":330,"hi":540},
{"t":"RE","m":"SD","x":460000,"y":439,"lo":340,"hi":560},
{"t":"RE","m":"SD","x":493333,"y":632,"lo":450,"hi":760},
{"t":"RE","m":"SD","x":526667,"y":372,"lo":250,"hi":560},
{"t":"RE","m":"SD","x":560000,"y":512,"lo":360,"hi":670},
{"t":"RE","m":"SD","x":593333,"y":493,"lo":360,"hi":620},
{"t":"RE","m":"SD","x":626667,"y":531,"lo":400,"hi":660},
{"t":"RE","m":"SD","x":660000,"y":386,"lo":280,"hi":550},
{"t":"RE","m":"SD","x":693333,"y":563,"lo":420,"hi":720},
{"t":"RE","m":"SD","x":726667,"y":437,"lo":320,"hi":620},
{"t":"RE","m":"SD","x":760000,"y":601,"lo":460,"hi":710},
{"t":"RE","m":"SD","x":793333,"y":587,"lo":460,"hi":730},
{"t":"RE","m":"SD","x":826667,"y":620,"lo":480,"hi":780},
{"t":"RE","m":"SD","x":860000,"y":561,"lo":430,"hi":700},
{"t":"RE","m":"SD","x":893333,"y":671,"lo":470,"hi":840},
{"t":"RE","m":"SD","x":926667,"y":629,"lo":470,"hi":770},
{"t":"RE","m":"SD","x":960000,"y":624,"lo":480,"hi":760},
{"t":"RE","m":"SD","x":993333,"y":594,"lo":470,"hi":720},
{"t":"WR","m":"TIA","x":60000,"y":65,"lo":55,"hi":80},
{"t":"WR","m":"TIA","x":93333,"y":80,"lo":65,"hi":110},
{"t":"WR","m":"TIA","x":126667,"y":105,"lo":70,"hi":150},
{"t":"WR","m":"TIA","x":160000,"y":115,"lo":75,"hi":170},
{"t":"WR","m":"TIA","x":193333,"y":130,"lo":80,"hi":190},
{"t":"WR","m":"TIA","x":226667,"y":140,"lo":90,"hi":200},
{"t":"WR","m":"TIA","x":260000,"y":150,"lo":95,"hi":210},
{"t":"WR","m":"TIA","x":293333,"y":150,"lo":95,"hi":225},
{"t":"WR","m":"TIA","x":326667,"y":162,"lo":100,"hi":260},
{"t":"WR","m":"TIA","x":360000,"y":172,"lo":105,"hi":280},
{"t":"WR","m":"TIA","x":393333,"y":190,"lo":110,"hi":290},
{"t":"WR","m":"TIA","x":426667,"y":198,"lo":120,"hi":300},
{"t":"WR","m":"TIA","x":460000,"y":208,"lo":120,"hi":310},
{"t":"WR","m":"TIA","x":493333,"y":208,"lo":115,"hi":320},
{"t":"WR","m":"TIA","x":526667,"y":220,"lo":125,"hi":330},
{"t":"WR","m":"TIA","x":560000,"y":232,"lo":130,"hi":340},
{"t":"WR","m":"TIA","x":593333,"y":235,"lo":130,"hi":350},
{"t":"WR","m":"TIA","x":626667,"y":250,"lo":135,"hi":360},
{"t":"WR","m":"TIA","x":660000,"y":245,"lo":135,"hi":370},
{"t":"WR","m":"TIA","x":693333,"y":262,"lo":140,"hi":400},
{"t":"WR","m":"TIA","x":726667,"y":270,"lo":140,"hi":400},
{"t":"WR","m":"TIA","x":760000,"y":260,"lo":140,"hi":390},
{"t":"WR","m":"TIA","x":793333,"y":270,"lo":140,"hi":400},
{"t":"WR","m":"TIA","x":826667,"y":295,"lo":140,"hi":440},
{"t":"WR","m":"TIA","x":860000,"y":295,"lo":145,"hi":450},
{"t":"WR","m":"TIA","x":893333,"y":302,"lo":145,"hi":460},
{"t":"WR","m":"TIA","x":926667,"y":322,"lo":150,"hi":500},
{"t":"WR","m":"TIA","x":960000,"y":320,"lo":145,"hi":500},
{"t":"WR","m":"TIA","x":993333,"y":330,"lo":145,"hi":515},
{"t":"WR","m":"RePo","x":60000,"y":48,"lo":40,"hi":55},
{"t":"WR","m":"RePo","x":93333,"y":70,"lo":60,"hi":80},
{"t":"WR","m":"RePo","x":126667,"y":72,"lo":62,"hi":82},
{"t":"WR","m":"RePo","x":160000,"y":80,"lo":70,"hi":90},
{"t":"WR","m":"RePo","x":193333,"y":80,"lo":70,"hi":90},
{"t":"WR","m":"RePo","x":226667,"y":88,"lo":78,"hi":98},
{"t":"WR","m":"RePo","x":260000,"y":95,"lo":85,"hi":105},
{"t":"WR","m":"RePo","x":293333,"y":95,"lo":85,"hi":108},
{"t":"WR","m":"RePo","x":326667,"y":98,"lo":88,"hi":112},
{"t":"WR","m":"RePo","x":360000,"y":105,"lo":92,"hi":120},
{"t":"WR","m":"RePo","x":393333,"y":115,"lo":100,"hi":130},
{"t":"WR","m":"RePo","x":426667,"y":125,"lo":105,"hi":145},
{"t":"WR","m":"RePo","x":460000,"y":130,"lo":105,"hi":155},
{"t":"WR","m":"RePo","x":493333,"y":142,"lo":112,"hi":170},
{"t":"WR","m":"RePo","x":526667,"y":142,"lo":110,"hi":175},
{"t":"WR","m":"RePo","x":560000,"y":145,"lo":112,"hi":180},
{"t":"WR","m":"RePo","x":593333,"y":150,"lo":115,"hi":185},
{"t":"WR","m":"RePo","x":626667,"y":155,"lo":118,"hi":195},
{"t":"WR","m":"RePo","x":660000,"y":158,"lo":120,"hi":200},
{"t":"WR","m":"RePo","x":693333,"y":170,"lo":125,"hi":220},
{"t":"WR","m":"RePo","x":726667,"y":180,"lo":130,"hi":230},
{"t":"WR","m":"RePo","x":760000,"y":185,"lo":132,"hi":240},
{"t":"WR","m":"RePo","x":793333,"y":195,"lo":138,"hi":255},
{"t":"WR","m":"RePo","x":826667,"y":200,"lo":140,"hi":270},
{"t":"WR","m":"RePo","x":860000,"y":205,"lo":140,"hi":275},
{"t":"WR","m":"RePo","x":893333,"y":215,"lo":145,"hi":290},
{"t":"WR","m":"RePo","x":926667,"y":222,"lo":148,"hi":300},
{"t":"WR","m":"RePo","x":960000,"y":225,"lo":150,"hi":300},
{"t":"WR","m":"RePo","x":993333,"y":235,"lo":150,"hi":310},
{"t":"WR","m":"DreamerPro","x":60000,"y":85,"lo":75,"hi":95},
{"t":"WR","m":"DreamerPro","x":93333,"y":108,"lo":95,"hi":125},
{"t":"WR","m":"DreamerPro","x":126667,"y":142,"lo":125,"hi":160},
{"t":"WR","m":"DreamerPro","x":160000,"y":160,"lo":140,"hi":180},
{"t":"WR","m":"DreamerPro","x":193333,"y":190,"lo":165,"hi":215},
{"t":"WR","m":"DreamerPro","x":226667,"y":215,"lo":190,"hi":235},
{"t":"WR","m":"DreamerPro","x":260000,"y":248,"lo":220,"hi":285},
{"t":"WR","m":"DreamerPro","x":293333,"y":280,"lo":250,"hi":320},
{"t":"WR","m":"DreamerPro","x":326667,"y":315,"lo":270,"hi":370},
{"t":"WR","m":"DreamerPro","x":360000,"y":375,"lo":320,"hi":430},
{"t":"WR","m":"DreamerPro","x":393333,"y":415,"lo":360,"hi":460},
{"t":"WR","m":"DreamerPro","x":426667,"y":435,"lo":380,"hi":480},
{"t":"WR","m":"DreamerPro","x":460000,"y":450,"lo":390,"hi":500},
{"t":"WR","m":"DreamerPro","x":493333,"y":478,"lo":420,"hi":540},
{"t":"WR","m":"DreamerPro","x":526667,"y":505,"lo":450,"hi":560},
{"t":"WR","m":"DreamerPro","x":560000,"y":510,"lo":460,"hi":580},
{"t":"WR","m":"DreamerPro","x":593333,"y":520,"lo":470,"hi":600},
{"t":"WR","m":"DreamerPro","x":626667,"y":528,"lo":480,"hi":620},
{"t":"WR","m":"DreamerPro","x":660000,"y":545,"lo":490,"hi":630},
{"t":"WR","m":"DreamerPro","x":693333,"y":558,"lo":500,"hi":640},
{"t":"WR","m":"DreamerPro","x":726667,"y":565,"lo":500,"hi":650},
{"t":"WR","m":"DreamerPro","x":760000,"y":565,"lo":500,"hi":660},
{"t":"WR","m":"DreamerPro","x":793333,"y":585,"lo":510,"hi":670},
{"t":"WR","m":"DreamerPro","x":826667,"y":583,"lo":510,"hi":680},
{"t":"WR","m":"DreamerPro","x":860000,"y":593,"lo":520,"hi":680},
{"t":"WR","m":"DreamerPro","x":893333,"y":600,"lo":520,"hi":700},
{"t":"WR","m":"DreamerPro","x":926667,"y":612,"lo":530,"hi":710},
{"t":"WR","m":"DreamerPro","x":960000,"y":603,"lo":530,"hi":710},
{"t":"WR","m":"DreamerPro","x":993333,"y":632,"lo":540,"hi":720},
{"t":"WR","m":"SD","x":60000,"y":222,"lo":205,"hi":240},
{"t":"WR","m":"SD","x":93333,"y":283,"lo":255,"hi":300},
{"t":"WR","m":"SD","x":126667,"y":321,"lo":290,"hi":360},
{"t":"WR","m":"SD","x":160000,"y":325,"lo":285,"hi":360},
{"t":"WR","m":"SD","x":193333,"y":372,"lo":320,"hi":440},
{"t":"WR","m":"SD","x":226667,"y":430,"lo":380,"hi":460},
{"t":"WR","m":"SD","x":260000,"y":419,"lo":390,"hi":450},
{"t":"WR","m":"SD","x":293333,"y":498,"lo":420,"hi":560},
{"t":"WR","m":"SD","x":326667,"y":503,"lo":420,"hi":570},
{"t":"WR","m":"SD","x":360000,"y":526,"lo":450,"hi":600},
{"t":"WR","m":"SD","x":393333,"y":564,"lo":480,"hi":620},
{"t":"WR","m":"SD","x":426667,"y":594,"lo":520,"hi":620},
{"t":"WR","m":"SD","x":460000,"y":596,"lo":500,"hi":660},
{"t":"WR","m":"SD","x":493333,"y":594,"lo":510,"hi":650},
{"t":"WR","m":"SD","x":526667,"y":620,"lo":550,"hi":720},
{"t":"WR","m":"SD","x":560000,"y":645,"lo":600,"hi":720},
{"t":"WR","m":"SD","x":593333,"y":654,"lo":610,"hi":720},
{"t":"WR","m":"SD","x":626667,"y":654,"lo":610,"hi":700},
{"t":"WR","m":"SD","x":660000,"y":650,"lo":560,"hi":730},
{"t":"WR","m":"SD","x":693333,"y":692,"lo":640,"hi":720},
{"t":"WR","m":"SD","x":726667,"y":708,"lo":670,"hi":740},
{"t":"WR","m":"SD","x":760000,"y":699,"lo":680,"hi":720},
{"t":"WR","m":"SD","x":793333,"y":716,"lo":690,"hi":730},
{"t":"WR","m":"SD","x":826667,"y":727,"lo":690,"hi":740},
{"t":"WR","m":"SD","x":860000,"y":713,"lo":670,"hi":745},
{"t":"WR","m":"SD","x":893333,"y":718,"lo":680,"hi":755},
{"t":"WR","m":"SD","x":926667,"y":722,"lo":700,"hi":740},
{"t":"WR","m":"SD","x":960000,"y":736,"lo":710,"hi":750},
{"t":"WR","m":"SD","x":993333,"y":732,"lo":720,"hi":745}
]},
"columns":3,
"bounds":"flush",
"spacing":{"row":383,"column":253},
"concat":[
{"title":"Cartpole Swingup","width":1085,"height":797,"transform":[{"filter":"datum.t === 'CS'"}],
 "encoding":{"x":{"field":"x","type":"quantitative","scale":{"domain":[13500,1039800],"nice":false,"zero":false},"axis":{"values":[300000,600000,900000],"labelExpr":"datum.value/100000","title":"1e5","titleFontSize":74,"titleFontWeight":"normal","titleColor":"black","titleAnchor":"end","titleAlign":"right","titlePadding":25}},
  "color":{"field":"m","type":"nominal","scale":{"domain":["SD","DreamerPro","RePo","TIA"],"range":["#e41a1c","#ff7f00","#a65628","#f781bf"]},"legend":{"orient":"none","legendX":191,"legendY":2251,"direction":"horizontal","columns":4,"title":null,"symbolOpacity":1,"labelExpr":"datum.value === 'SD' ? 'SDₐₚₚᵣₒₓ. (Ours)' : datum.value","labelFontStyle":{"expr":"datum.value === 'SD' ? 'italic' : 'normal'"}}}},
 "layer":[
  {"mark":{"type":"area","fillOpacity":0.22},"encoding":{"y":{"field":"lo","type":"quantitative","scale":{"domain":[0,1000],"nice":false},"axis":{"values":[0,200,400,600,800,1000],"format":"d","title":null}},"y2":{"field":"hi"}}},
  {"mark":{"type":"line","strokeWidth":10,"strokeJoin":"round"},"encoding":{"y":{"field":"y","type":"quantitative","scale":{"domain":[0,1000],"nice":false},"axis":{"values":[0,200,400,600,800,1000],"format":"d","title":null}}}}
 ]},
{"title":"Cartpole Swingup Sparse","width":1085,"height":797,"transform":[{"filter":"datum.t === 'CSS'"}],
 "encoding":{"x":{"field":"x","type":"quantitative","scale":{"domain":[13500,1039800],"nice":false,"zero":false},"axis":{"values":[300000,600000,900000],"labelExpr":"datum.value/100000","title":"1e5","titleFontSize":74,"titleFontWeight":"normal","titleColor":"black","titleAnchor":"end","titleAlign":"right","titlePadding":25}},
  "color":{"field":"m","type":"nominal","scale":{"domain":["SD","DreamerPro","RePo","TIA"],"range":["#e41a1c","#ff7f00","#a65628","#f781bf"]},"legend":{"orient":"none","legendX":191,"legendY":2251,"direction":"horizontal","columns":4,"title":null,"symbolOpacity":1,"labelExpr":"datum.value === 'SD' ? 'SDₐₚₚᵣₒₓ. (Ours)' : datum.value","labelFontStyle":{"expr":"datum.value === 'SD' ? 'italic' : 'normal'"}}}},
 "layer":[
  {"mark":{"type":"area","fillOpacity":0.22},"encoding":{"y":{"field":"lo","type":"quantitative","scale":{"domain":[0,1000],"nice":false},"axis":{"values":[0,200,400,600,800,1000],"format":"d","title":null}},"y2":{"field":"hi"}}},
  {"mark":{"type":"line","strokeWidth":10,"strokeJoin":"round"},"encoding":{"y":{"field":"y","type":"quantitative","scale":{"domain":[0,1000],"nice":false},"axis":{"values":[0,200,400,600,800,1000],"format":"d","title":null}}}}
 ]},
{"title":"Cheetah Run","width":1085,"height":797,"transform":[{"filter":"datum.t === 'CR'"}],
 "encoding":{"x":{"field":"x","type":"quantitative","scale":{"domain":[13500,1039800],"nice":false,"zero":false},"axis":{"values":[300000,600000,900000],"labelExpr":"datum.value/100000","title":"1e5","titleFontSize":74,"titleFontWeight":"normal","titleColor":"black","titleAnchor":"end","titleAlign":"right","titlePadding":25}},
  "color":{"field":"m","type":"nominal","scale":{"domain":["SD","DreamerPro","RePo","TIA"],"range":["#e41a1c","#ff7f00","#a65628","#f781bf"]},"legend":{"orient":"none","legendX":191,"legendY":2251,"direction":"horizontal","columns":4,"title":null,"symbolOpacity":1,"labelExpr":"datum.value === 'SD' ? 'SDₐₚₚᵣₒₓ. (Ours)' : datum.value","labelFontStyle":{"expr":"datum.value === 'SD' ? 'italic' : 'normal'"}}}},
 "layer":[
  {"mark":{"type":"area","fillOpacity":0.22},"encoding":{"y":{"field":"lo","type":"quantitative","scale":{"domain":[0,1000],"nice":false},"axis":{"values":[0,200,400,600,800,1000],"format":"d","title":null}},"y2":{"field":"hi"}}},
  {"mark":{"type":"line","strokeWidth":10,"strokeJoin":"round"},"encoding":{"y":{"field":"y","type":"quantitative","scale":{"domain":[0,1000],"nice":false},"axis":{"values":[0,200,400,600,800,1000],"format":"d","title":null}}}}
 ]},
{"title":"Hopper Stand","width":1085,"height":797,"transform":[{"filter":"datum.t === 'HS'"}],
 "encoding":{"x":{"field":"x","type":"quantitative","scale":{"domain":[13500,1039800],"nice":false,"zero":false},"axis":{"values":[300000,600000,900000],"labelExpr":"datum.value/100000","title":"1e5","titleFontSize":74,"titleFontWeight":"normal","titleColor":"black","titleAnchor":"end","titleAlign":"right","titlePadding":25}},
  "color":{"field":"m","type":"nominal","scale":{"domain":["SD","DreamerPro","RePo","TIA"],"range":["#e41a1c","#ff7f00","#a65628","#f781bf"]},"legend":{"orient":"none","legendX":191,"legendY":2251,"direction":"horizontal","columns":4,"title":null,"symbolOpacity":1,"labelExpr":"datum.value === 'SD' ? 'SDₐₚₚᵣₒₓ. (Ours)' : datum.value","labelFontStyle":{"expr":"datum.value === 'SD' ? 'italic' : 'normal'"}}}},
 "layer":[
  {"mark":{"type":"area","fillOpacity":0.22},"encoding":{"y":{"field":"lo","type":"quantitative","scale":{"domain":[0,1000],"nice":false},"axis":{"values":[0,200,400,600,800,1000],"format":"d","title":null}},"y2":{"field":"hi"}}},
  {"mark":{"type":"line","strokeWidth":10,"strokeJoin":"round"},"encoding":{"y":{"field":"y","type":"quantitative","scale":{"domain":[0,1000],"nice":false},"axis":{"values":[0,200,400,600,800,1000],"format":"d","title":null}}}}
 ]},
{"title":"Reacher Easy","width":1085,"height":797,"transform":[{"filter":"datum.t === 'RE'"}],
 "encoding":{"x":{"field":"x","type":"quantitative","scale":{"domain":[13500,1039800],"nice":false,"zero":false},"axis":{"values":[300000,600000,900000],"labelExpr":"datum.value/100000","title":"1e5","titleFontSize":74,"titleFontWeight":"normal","titleColor":"black","titleAnchor":"end","titleAlign":"right","titlePadding":25}},
  "color":{"field":"m","type":"nominal","scale":{"domain":["SD","DreamerPro","RePo","TIA"],"range":["#e41a1c","#ff7f00","#a65628","#f781bf"]},"legend":{"orient":"none","legendX":191,"legendY":2251,"direction":"horizontal","columns":4,"title":null,"symbolOpacity":1,"labelExpr":"datum.value === 'SD' ? 'SDₐₚₚᵣₒₓ. (Ours)' : datum.value","labelFontStyle":{"expr":"datum.value === 'SD' ? 'italic' : 'normal'"}}}},
 "layer":[
  {"mark":{"type":"area","fillOpacity":0.22},"encoding":{"y":{"field":"lo","type":"quantitative","scale":{"domain":[0,1000],"nice":false},"axis":{"values":[0,200,400,600,800,1000],"format":"d","title":null}},"y2":{"field":"hi"}}},
  {"mark":{"type":"line","strokeWidth":10,"strokeJoin":"round"},"encoding":{"y":{"field":"y","type":"quantitative","scale":{"domain":[0,1000],"nice":false},"axis":{"values":[0,200,400,600,800,1000],"format":"d","title":null}}}}
 ]},
{"title":"Walker Run","width":1085,"height":797,"transform":[{"filter":"datum.t === 'WR'"}],
 "encoding":{"x":{"field":"x","type":"quantitative","scale":{"domain":[13500,1039800],"nice":false,"zero":false},"axis":{"values":[300000,600000,900000],"labelExpr":"datum.value/100000","title":"1e5","titleFontSize":74,"titleFontWeight":"normal","titleColor":"black","titleAnchor":"end","titleAlign":"right","titlePadding":25}},
  "color":{"field":"m","type":"nominal","scale":{"domain":["SD","DreamerPro","RePo","TIA"],"range":["#e41a1c","#ff7f00","#a65628","#f781bf"]},"legend":{"orient":"none","legendX":191,"legendY":2251,"direction":"horizontal","columns":4,"title":null,"symbolOpacity":1,"labelExpr":"datum.value === 'SD' ? 'SDₐₚₚᵣₒₓ. (Ours)' : datum.value","labelFontStyle":{"expr":"datum.value === 'SD' ? 'italic' : 'normal'"}}}},
 "layer":[
  {"mark":{"type":"area","fillOpacity":0.22},"encoding":{"y":{"field":"lo","type":"quantitative","scale":{"domain":[0,1000],"nice":false},"axis":{"values":[0,200,400,600,800,1000],"format":"d","title":null}},"y2":{"field":"hi"}}},
  {"mark":{"type":"line","strokeWidth":10,"strokeJoin":"round"},"encoding":{"y":{"field":"y","type":"quantitative","scale":{"domain":[0,1000],"nice":false},"axis":{"values":[0,200,400,600,800,1000],"format":"d","title":null}}}}
 ]}
]
}
